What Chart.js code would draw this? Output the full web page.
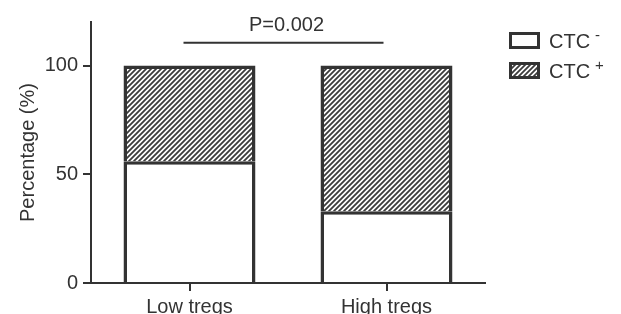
<!DOCTYPE html>
<html>
<head>
<meta charset="utf-8">
<script src="https://cdn.jsdelivr.net/npm/chart.js@4"></script>
<style>
html, body { margin: 0; padding: 0; background: #fff; }
canvas { display: block; }
</style>
</head>
<body>
<canvas id="chart" width="621" height="314"></canvas>
<script>
// Dados do gráfico
const categories = ['Low tregs', 'High tregs'];
const ctcNeg = [56, 33];
const ctcPos = [44, 67];
const seriesNames = ['CTC', 'CTC'];
const seriesSup = ['-', '+'];
const yTicks = [0, 50, 100];
const yMax = 120;
const pLabel = 'P=0.002';
const pLevel = 110.5;

const INK = '#333333';
const FONT = "'Liberation Sans', Arial, sans-serif";

Chart.defaults.font.family = FONT;
Chart.defaults.font.size = 20;
Chart.defaults.color = INK;

const canvas = document.getElementById('chart');
const ctx = canvas.getContext('2d');

// Padrão hachurado (/)
function makeHatch() {
    const s = 5;
    const c = document.createElement('canvas');
    c.width = s;
    c.height = s;
    const g = c.getContext('2d');
    g.fillStyle = '#ffffff';
    g.fillRect(0, 0, s, s);
    g.strokeStyle = '#3c3c3c';
    g.lineWidth = 1.8;
    g.beginPath();
    g.moveTo(-1, s + 1); g.lineTo(s + 1, -1);
    g.moveTo(-1, 1); g.lineTo(1, -1);
    g.moveTo(s - 1, s + 1); g.lineTo(s + 1, s - 1);
    g.stroke();
    return ctx.createPattern(c, 'repeat');
}
const hatch = makeHatch();

// Linha de significância + legenda
const extras = {
    id: 'extras',
    afterDraw(chart) {
        const { ctx, scales: { x, y }, chartArea } = chart;
        ctx.save();

        const ly = y.getPixelForValue(pLevel);
        const x0 = x.getPixelForValue(0) - 6;
        const x1 = x.getPixelForValue(1) - 3;
        ctx.strokeStyle = INK;
        ctx.lineWidth = 2;
        ctx.beginPath();
        ctx.moveTo(x0, ly);
        ctx.lineTo(x1, ly);
        ctx.stroke();

        ctx.fillStyle = INK;
        ctx.font = '20px ' + FONT;
        ctx.textAlign = 'center';
        ctx.textBaseline = 'alphabetic';
        ctx.fillText(pLabel, (x0 + x1) / 2 + 3, ly - 12);

        // legenda
        chart.data.datasets.forEach((ds, i) => {
            const bx = chartArea.right + 24;
            const by = 32 + i * 30;
            ctx.fillStyle = ds.backgroundColor;
            ctx.fillRect(bx + 1.5, by + 1.5, 28, 14);
            ctx.strokeStyle = INK;
            ctx.lineWidth = 3;
            ctx.strokeRect(bx + 1.5, by + 1.5, 28, 14);

            const base = by + 16;
            ctx.fillStyle = INK;
            ctx.textAlign = 'left';
            ctx.font = '20px ' + FONT;
            ctx.fillText(seriesNames[i], bx + 40, base);
            const w = ctx.measureText(seriesNames[i]).width;
            ctx.font = '15px ' + FONT;
            ctx.fillText(seriesSup[i], bx + 40 + w + 5, base - 8);
        });

        ctx.restore();
    }
};

new Chart(ctx, {
    type: 'bar',
    data: {
        labels: categories,
        datasets: [
            {
                label: seriesNames[0] + seriesSup[0],
                data: ctcNeg,
                backgroundColor: '#ffffff',
                borderColor: INK,
                borderWidth: 3.5,
                barPercentage: 0.67,
                categoryPercentage: 1
            },
            {
                label: seriesNames[1] + seriesSup[1],
                data: ctcPos,
                backgroundColor: hatch,
                borderColor: INK,
                borderWidth: 3.5,
                barPercentage: 0.67,
                categoryPercentage: 1
            }
        ]
    },
    options: {
        responsive: false,
        animation: false,
        devicePixelRatio: 1,
        layout: {
            padding: { top: 22, right: 136, left: 0, bottom: 0 }
        },
        plugins: {
            legend: { display: false },
            tooltip: { enabled: false }
        },
        scales: {
            x: {
                stacked: true,
                border: { display: true, color: INK, width: 2 },
                grid: {
                    offset: false,
                    drawOnChartArea: false,
                    drawTicks: true,
                    tickLength: 8,
                    tickColor: INK,
                    lineWidth: 2
                },
                ticks: { padding: 4, color: INK, font: { size: 20 } },
                afterFit(s) { s.height = 31; }
            },
            y: {
                stacked: true,
                min: 0,
                max: yMax,
                border: { display: true, color: INK, width: 2 },
                grid: {
                    drawOnChartArea: false,
                    drawTicks: true,
                    tickLength: 8,
                    tickColor: INK,
                    lineWidth: 2
                },
                ticks: { padding: 5, color: INK, font: { size: 20 } },
                afterBuildTicks(s) { s.ticks = yTicks.map(v => ({ value: v })); },
                title: {
                    display: true,
                    text: 'Percentage (%)',
                    color: INK,
                    font: { size: 20 },
                    padding: { top: 16, bottom: 0 }
                },
                afterFit(s) { s.width = 91; }
            }
        }
    },
    plugins: [extras]
});
</script>
</body>
</html>
